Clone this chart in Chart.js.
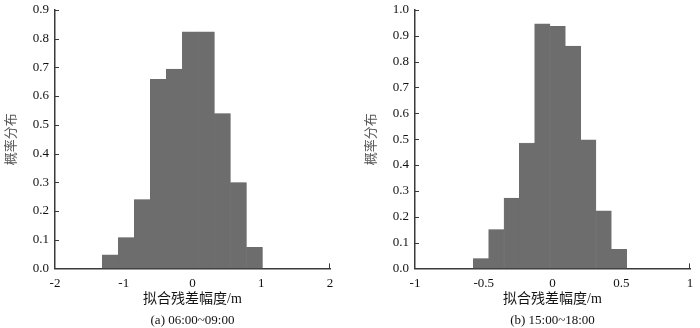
<!DOCTYPE html>
<html>
<head>
<meta charset="utf-8">
<script src="https://cdn.jsdelivr.net/npm/chart.js@4/dist/chart.umd.min.js"></script>
<style>
  body { margin: 0; background: #fff; }
  .panel { position: absolute; top: 0; width: 350px; height: 328px; }
</style>
</head>
<body>
<div class="panel" style="left:0"><canvas id="chartA" width="350" height="328"></canvas></div>
<div class="panel" style="left:360px"><canvas id="chartB" width="350" height="328"></canvas></div>
<script>
// (a) 06:00~09:00 : bin centres (m) and probability density
const binsA = [-1.196, -0.963, -0.730, -0.497, -0.264, -0.031, 0.202, 0.435, 0.668, 0.901];
const probA = [0.047, 0.107, 0.240, 0.658, 0.694, 0.824, 0.824, 0.539, 0.299, 0.073];

// (b) 15:00~18:00
const binsB = [-0.5200, -0.4085, -0.2970, -0.1855, -0.0740, 0.0375, 0.1490, 0.2605, 0.3720, 0.4835];
const probB = [0.038, 0.150, 0.272, 0.485, 0.946, 0.936, 0.860, 0.497, 0.223, 0.074];

const xTitle = "拟合残差幅度/m";
const yTitle = "概率分布";

const serif = '"Liberation Serif", "Times New Roman", "Noto Sans CJK SC", serif';
const axisColor = "#3a3a3a";

// short ticks pointing into the plot, like the original figure
const innerTicks = {
  id: "innerTicks",
  afterDraw(chart) {
    const { ctx, scales: { x, y } } = chart;
    ctx.save();
    ctx.strokeStyle = axisColor;
    ctx.lineWidth = 1;
    y.ticks.forEach((t) => {
      const py = Math.round(y.getPixelForValue(t.value)) + 0.5;
      ctx.beginPath();
      ctx.moveTo(x.left, py);
      ctx.lineTo(x.left + 4, py);
      ctx.stroke();
    });
    const px = Math.round(x.getPixelForValue(x.max)) - 0.5;
    ctx.beginPath();
    ctx.moveTo(px, y.bottom);
    ctx.lineTo(px, y.bottom - 5);
    ctx.stroke();
    ctx.restore();
  },
};

function makeChart(id, bins, probs, xMin, xMax, xStep, yMax, caption) {
  return new Chart(document.getElementById(id), {
    type: "bar",
    data: {
      datasets: [
        {
          data: bins.map((b, i) => ({ x: b, y: probs[i] })),
          backgroundColor: "#6d6d6d",
          borderColor: "#6d6d6d",
          borderWidth: 0.5,
          barPercentage: 1,
          categoryPercentage: 1,
        },
      ],
    },
    options: {
      responsive: false,
      animation: false,
      layout: { padding: { top: 9, right: 20, bottom: 0, left: 0 } },
      plugins: {
        legend: { display: false },
        tooltip: { enabled: false },
        title: {
          display: true,
          text: caption,
          position: "bottom",
          fullSize: false,
          color: "#111",
          font: { family: serif, size: 13, weight: "normal" },
          padding: { top: 0, bottom: 0 },
        },
      },
      scales: {
        x: {
          type: "linear",
          min: xMin,
          max: xMax,
          offset: false,
          grid: { display: false, drawTicks: false, offset: false },
          border: { display: true, color: axisColor, width: 1.5 },
          ticks: {
            stepSize: xStep,
            padding: 7,
            color: "#111",
            maxRotation: 0,
            font: { family: serif, size: 13 },
            callback: (v) => String(Number(v.toFixed(2))),
          },
          title: {
            display: true,
            text: xTitle,
            color: "#111",
            font: { family: serif, size: 14 },
            padding: { top: 0, bottom: 5 },
          },
          afterFit: (s) => { s.height = 44; },
        },
        y: {
          min: 0,
          max: yMax,
          grid: { display: false, drawTicks: false },
          border: { display: true, color: axisColor, width: 1.5 },
          ticks: {
            stepSize: 0.1,
            padding: 6,
            color: "#111",
            font: { family: serif, size: 13, lineHeight: 0.6 },
            callback: (v) => v.toFixed(1),
          },
          title: {
            display: true,
            text: yTitle,
            color: "#555",
            font: { family: serif, size: 13 },
            padding: { top: 4, bottom: 0 },
          },
          afterFit: (s) => { s.width = 55; },
        },
      },
    },
    plugins: [innerTicks],
  });
}

makeChart("chartA", binsA, probA, -2, 2, 1, 0.9, "(a) 06:00~09:00");
makeChart("chartB", binsB, probB, -1, 1, 0.5, 1.0, "(b) 15:00~18:00");
</script>
</body>
</html>
